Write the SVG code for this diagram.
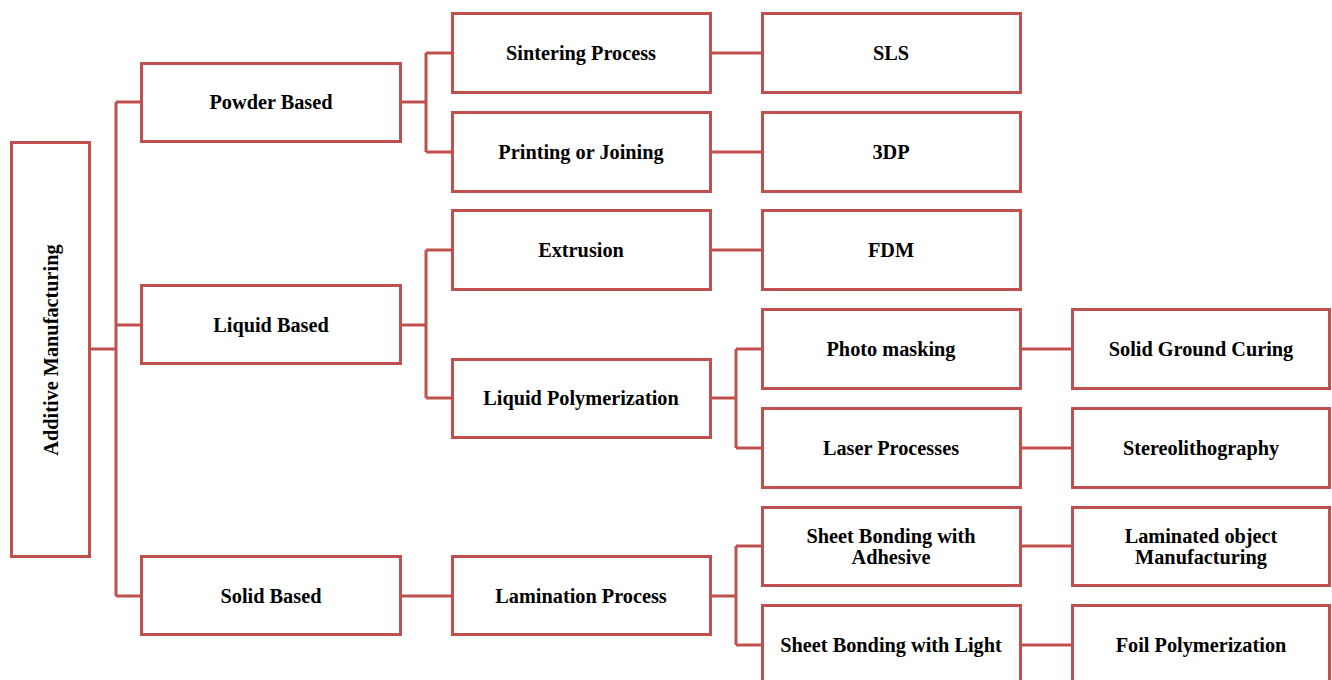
<svg xmlns="http://www.w3.org/2000/svg" width="1332" height="680" viewBox="0 0 1332 680">
<style>
.box{fill:#fff;stroke:#C0504D;stroke-width:3}
.ln{fill:none;stroke:#C0504D;stroke-width:3}
text{font-family:"Liberation Serif","Times New Roman",serif;font-weight:bold;font-size:20.3px;fill:#000;text-anchor:middle;dominant-baseline:central}
</style>
<rect width="1332" height="680" fill="#fff"/>
<g id="connectors">
<path class="ln" d="M90 349H116M116 102V596M116 102H141M116 325H141M116 596H141"/>
<path class="ln" d="M400 102H426M426 53V152M426 53H452M426 152H452"/>
<path class="ln" d="M400 325H426M426 250V398M426 250H452M426 398H452"/>
<path class="ln" d="M400 596H452"/>
<path class="ln" d="M710 53H762M710 152H762M710 250H762"/>
<path class="ln" d="M710 398H736M736 349V448M736 349H762M736 448H762"/>
<path class="ln" d="M710 596H736M736 546V645M736 546H762M736 645H762"/>
<path class="ln" d="M1020 349H1072M1020 448H1072M1020 546H1072M1020 645H1072"/>
</g>
<g id="root"><rect class="box" x="11.5" y="142.5" width="78" height="414"/><text transform="translate(51 350) rotate(-90)">Additive Manufacturing</text></g>
<g id="powder"><rect class="box" x="141.5" y="63.5" width="259" height="78"/><text x="271" y="102">Powder Based</text></g>
<g id="liquid"><rect class="box" x="141.5" y="285.5" width="259" height="78"/><text x="271" y="325">Liquid Based</text></g>
<g id="solid"><rect class="box" x="141.5" y="556.5" width="259" height="78"/><text x="271" y="596">Solid Based</text></g>
<g id="sintering"><rect class="box" x="452.5" y="13.5" width="258" height="79"/><text x="581" y="53">Sintering Process</text></g>
<g id="printing"><rect class="box" x="452.5" y="112.5" width="258" height="79"/><text x="581" y="152">Printing or Joining</text></g>
<g id="extrusion"><rect class="box" x="452.5" y="210.5" width="258" height="79"/><text x="581" y="250">Extrusion</text></g>
<g id="liquidpoly"><rect class="box" x="452.5" y="359.5" width="258" height="78"/><text x="581" y="398">Liquid Polymerization</text></g>
<g id="lamination"><rect class="box" x="452.5" y="556.5" width="258" height="78"/><text x="581" y="596">Lamination Process</text></g>
<g id="sls"><rect class="box" x="762.5" y="13.5" width="258" height="79"/><text x="891" y="53">SLS</text></g>
<g id="threedp"><rect class="box" x="762.5" y="112.5" width="258" height="79"/><text x="891" y="152">3DP</text></g>
<g id="fdm"><rect class="box" x="762.5" y="210.5" width="258" height="79"/><text x="891" y="250">FDM</text></g>
<g id="photomask"><rect class="box" x="762.5" y="309.5" width="258" height="79"/><text x="891" y="349">Photo masking</text></g>
<g id="laser"><rect class="box" x="762.5" y="408.5" width="258" height="79"/><text x="891" y="448">Laser Processes</text></g>
<g id="sheetadh"><rect class="box" x="762.5" y="507.5" width="258" height="78"/><text x="891" y="536">Sheet Bonding with</text><text x="891" y="557">Adhesive</text></g>
<g id="sheetlight"><rect class="box" x="762.5" y="605.5" width="258" height="80"/><text x="891" y="645">Sheet Bonding with Light</text></g>
<g id="sgc"><rect class="box" x="1072.5" y="309.5" width="257" height="79"/><text x="1201" y="349">Solid Ground Curing</text></g>
<g id="stereo"><rect class="box" x="1072.5" y="408.5" width="257" height="79"/><text x="1201" y="448">Stereolithography</text></g>
<g id="lom"><rect class="box" x="1072.5" y="507.5" width="257" height="78"/><text x="1201" y="536">Laminated object</text><text x="1201" y="557">Manufacturing</text></g>
<g id="foil"><rect class="box" x="1072.5" y="605.5" width="257" height="80"/><text x="1201" y="645">Foil Polymerization</text></g>
</svg>
